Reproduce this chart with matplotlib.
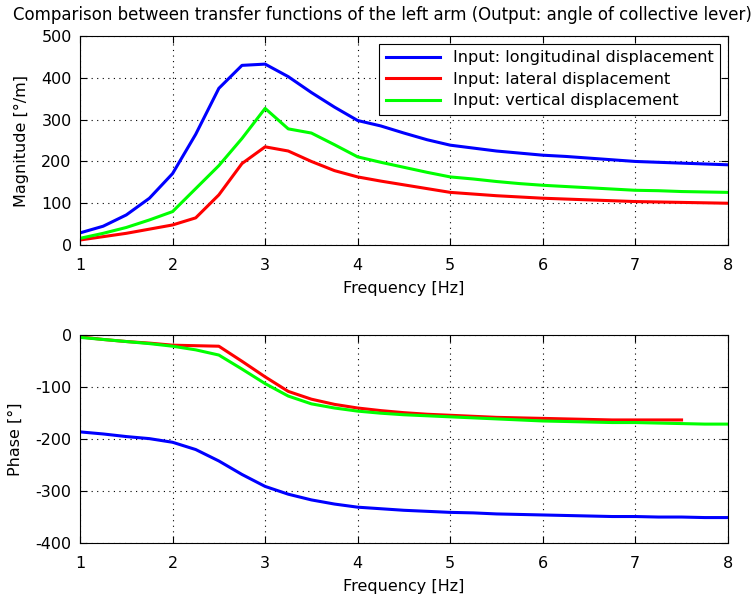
import matplotlib
matplotlib.use("Agg")
import matplotlib.pyplot as plt
import numpy as np

freq = [1, 1.25, 1.5, 1.75, 2, 2.25, 2.5, 2.75, 3, 3.25, 3.5, 3.75, 4, 4.25, 4.5,
        4.75, 5, 5.25, 5.5, 5.75, 6, 6.25, 6.5, 6.75, 7, 7.25, 7.5, 7.75, 8]

mag_long = [29, 45, 72, 112, 171, 265, 375, 430, 433, 403, 365, 330, 298, 285, 268,
            252, 239, 232, 225, 220, 215, 212, 208, 204, 200, 198, 196, 194, 192]
mag_lat = [12, 20, 28, 38, 48, 65, 120, 195, 235, 225, 200, 178, 163, 153, 144,
           135, 126, 122, 118, 115, 112, 110, 108, 106, 104, 103, 102, 101, 100]
mag_vert = [16, 28, 42, 60, 80, 135, 190, 255, 327, 278, 268, 240, 211, 198, 186,
            174, 163, 158, 152, 147, 143, 140, 137, 134, 131, 130, 128, 127, 126]

ph_long = [-186, -190, -195, -199, -206, -220, -242, -268, -291, -306, -317, -325, -331, -334, -337,
           -339, -341, -342, -344, -345, -346, -347, -348, -349, -349, -350, -350, -351, -351]
ph_lat = [-3, -8, -12, -15, -19, -20, -21, -50, -80, -108, -123, -133, -140, -145, -149,
          -152, -154, -156, -158, -159, -160, -161, -162, -163, -163, -163, -163]
ph_vert = [-4, -8, -12, -16, -21, -28, -38, -65, -93, -117, -132, -140, -146, -150, -153,
           -155, -157, -159, -161, -163, -165, -166, -167, -168, -168, -169, -170, -171, -171]

labels = ["Input: longitudinal displacement", "Input: lateral displacement",
          "Input: vertical displacement"]
colors = ["#0000ff", "#ff0000", "#00ff00"]

plt.rcParams['font.family'] = ['DejaVu Sans']
plt.rcParams['font.size'] = 11.5
plt.rcParams['axes.unicode_minus'] = False

fig = plt.figure(figsize=(7.55, 6.02), dpi=100)
ax1 = fig.add_axes([0.106, 0.593, 0.858, 0.347])
ax2 = fig.add_axes([0.106, 0.098, 0.858, 0.345])

lw = 2.2
ax1.plot(freq, mag_long, color=colors[0], lw=lw, label=labels[0])
ax1.plot(freq, mag_lat, color=colors[1], lw=lw, label=labels[1])
ax1.plot(freq, mag_vert, color=colors[2], lw=lw, label=labels[2])

ax2.plot(freq, ph_long, color=colors[0], lw=lw)
ax2.plot(freq[:len(ph_lat)], ph_lat, color=colors[1], lw=lw)
ax2.plot(freq, ph_vert, color=colors[2], lw=lw)

ax1.set_xlim(1, 8)
ax1.set_ylim(0, 500)
ax1.set_yticks([0, 100, 200, 300, 400, 500])
ax2.set_xlim(1, 8)
ax2.set_ylim(-400, 0)
ax2.set_yticks([-400, -300, -200, -100, 0])

for ax in (ax1, ax2):
    ax.set_xticks(range(1, 9))
    ax.grid(True, color='black', linestyle=(0, (1, 4)), linewidth=0.8)
    ax.tick_params(direction='in', top=True, right=True, length=5, width=0.8)
    ax.tick_params(axis='x', pad=9)
    ax.tick_params(axis='y', pad=6)
    for s in ax.spines.values():
        s.set_linewidth(0.8)
    ax.set_xlabel("Frequency [Hz]", labelpad=6)

ax1.set_ylabel("Magnitude [°/m]", labelpad=9)
ax2.set_ylabel("Phase [°]", labelpad=9)
fig.text(0.506, 0.975, "Comparison between transfer functions of the left arm (Output: angle of collective lever)",
         fontsize=12, ha='center', va='center')

leg = ax1.legend(loc='upper right', fancybox=False, edgecolor='black', framealpha=1,
                 borderaxespad=0.5, handlelength=3.4, fontsize=11.5, labelspacing=0.4,
                 borderpad=0.4)
leg.get_frame().set_linewidth(0.8)

fig.savefig("out.png", dpi=100)
